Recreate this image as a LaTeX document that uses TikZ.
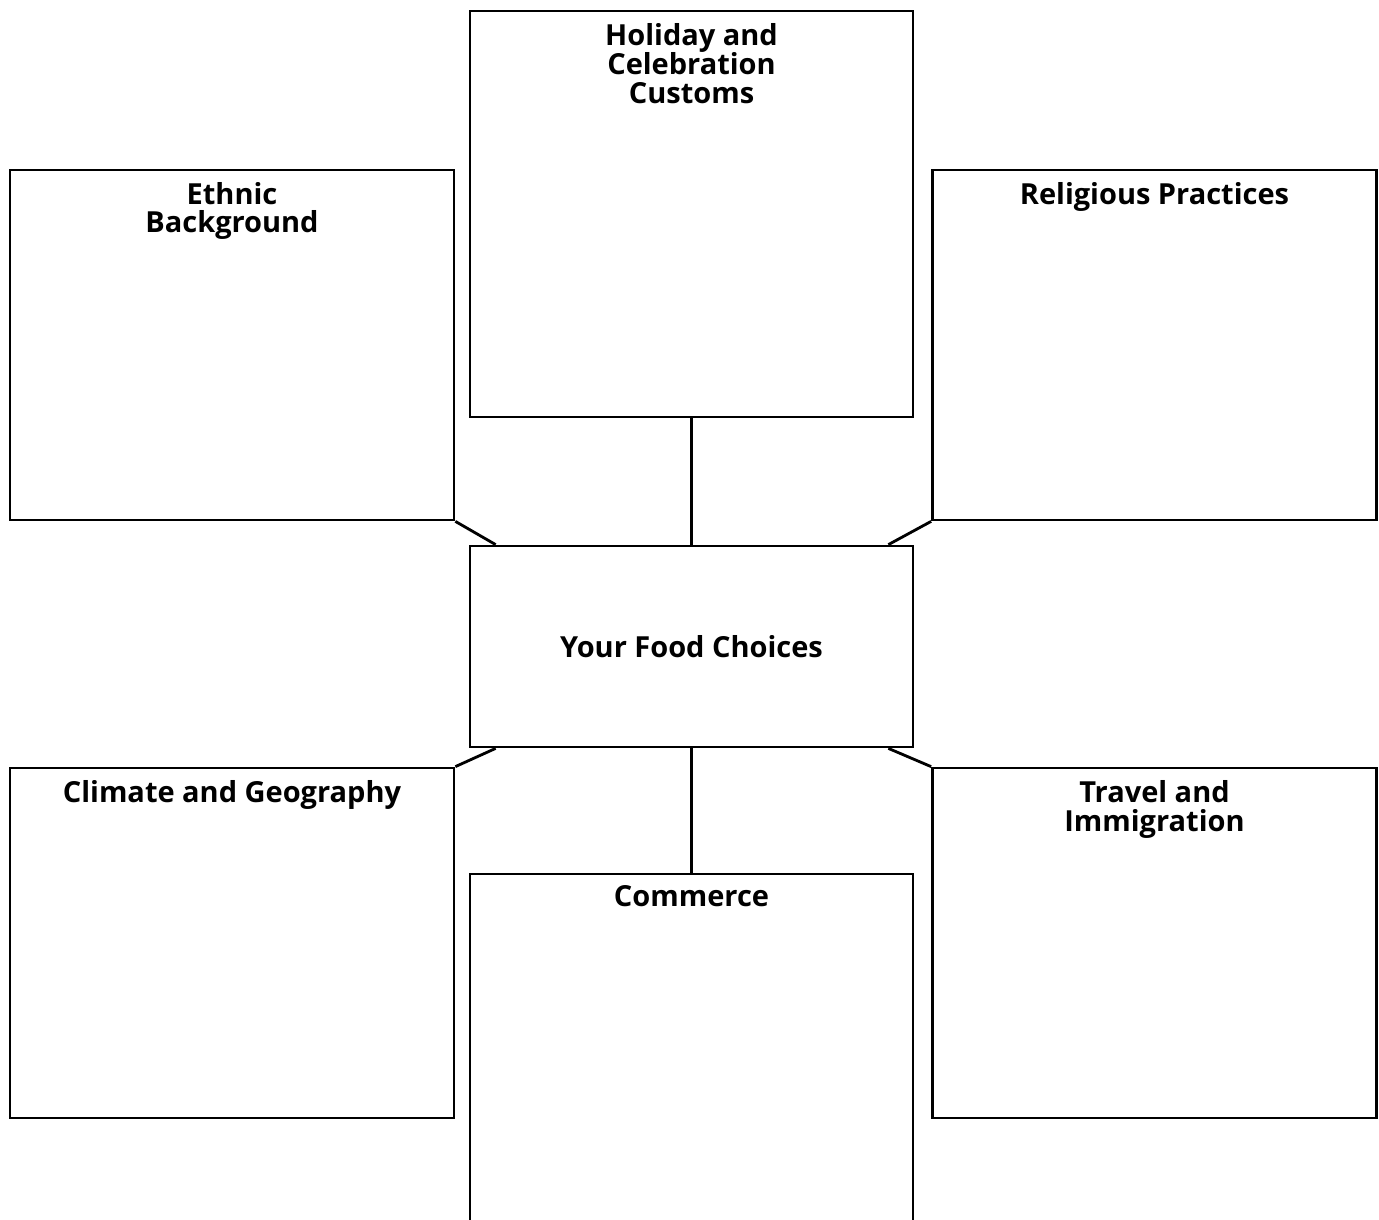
\documentclass[tikz,border=0pt]{standalone}
\usepackage{fontspec}
\setmainfont{Open Sans}
\usetikzlibrary{positioning}
\tikzset{
    box/.style = {rectangle, line width=1.6pt, draw=black, inner sep=0pt},
    bigbox/.style = {box, minimum width=8.86cm, minimum height=8.12cm},
    sidebox/.style = {box, minimum width=8.88cm, minimum height=7.0cm},
    hubbox/.style = {box, minimum width=8.86cm, minimum height=4.02cm, font=\bfseries\fontsize{16.5pt}{16.5pt}\selectfont},
    title/.style = {align=center, inner sep=0pt, font=\bfseries\fontsize{16.5pt}{16.5pt}\selectfont},
    link/.style = {line width=1.6pt, draw=black}
}

\begin{document}
\begin{tikzpicture}[x=0.02cm, y=-0.02cm]
\clip (0,0) rectangle (1379,1220);
\fill[white] (0,0) rectangle (1379,1220);
% boxes
\node[bigbox] at (691.5, 214.0) (hol) {};
\node[sidebox] at (232.0, 345.0) (eth) {};
\node[sidebox] at (1154.5, 345.0) (rel) {};
\node[hubbox] at (691.5, 646.5) (hub) {Your Food Choices};
\node[sidebox] at (232.0, 943.0) (cli) {};
\node[sidebox] at (1154.5, 943.0) (tra) {};
\node[bigbox, minimum height=9.0cm] at (691.5, 1099.0) (com) {};
%
\node[title, below=0.27cm of hol.north] (holt) {Holiday and\\Celebration\\Customs};
\node[title, below=0.26cm of eth.north] (etht) {Ethnic\\Background};
\node[title, below=0.26cm of rel.north] (relt) {Religious Practices};
\node[title, below=0.26cm of cli.north] (clit) {Climate and Geography};
\node[title, below=0.26cm of tra.north] (trat) {Travel and\\Immigration};
\node[title, below=0.26cm of com.north] (comt) {Commerce};
%
\draw[link] (hol.south) -- (hub.north);
\draw[link] (eth.south east) -- ([xshift=0.54cm]hub.north west);
\draw[link] (rel.south west) -- ([xshift=-0.52cm]hub.north east);
\draw[link] ([xshift=0.54cm]hub.south west) -- (cli.north east);
\draw[link] ([xshift=-0.52cm]hub.south east) -- (tra.north west);
\draw[link] (hub.south) -- (com.north);
\end{tikzpicture}
\end{document}
